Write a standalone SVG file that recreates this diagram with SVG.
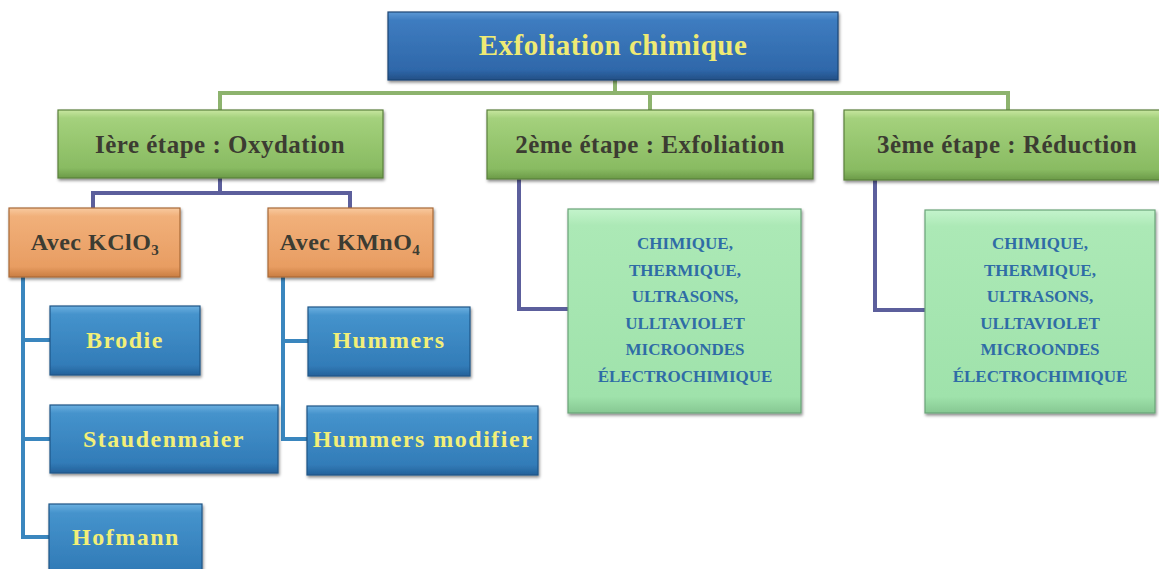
<svg xmlns="http://www.w3.org/2000/svg" width="1159" height="569" viewBox="0 0 1159 569">
<defs>
<linearGradient id="gBlue" x1="0" y1="0" x2="0" y2="1">
<stop offset="0" stop-color="#6cb0e0"/><stop offset="0.12" stop-color="#4593cc"/><stop offset="0.85" stop-color="#327cb8"/><stop offset="1" stop-color="#24619a"/>
</linearGradient>
<linearGradient id="gTop" x1="0" y1="0" x2="0" y2="1">
<stop offset="0" stop-color="#5c98d4"/><stop offset="0.12" stop-color="#3e7cc0"/><stop offset="0.85" stop-color="#2f68aa"/><stop offset="1" stop-color="#234f86"/>
</linearGradient>
<linearGradient id="gGreen" x1="0" y1="0" x2="0" y2="1">
<stop offset="0" stop-color="#c8e6a0"/><stop offset="0.12" stop-color="#a4d17c"/><stop offset="0.85" stop-color="#89bb62"/><stop offset="1" stop-color="#6b9a48"/>
</linearGradient>
<linearGradient id="gOrange" x1="0" y1="0" x2="0" y2="1">
<stop offset="0" stop-color="#f8caa0"/><stop offset="0.12" stop-color="#f1b07a"/><stop offset="0.85" stop-color="#e89d62"/><stop offset="1" stop-color="#c97d42"/>
</linearGradient>
<linearGradient id="gMint" x1="0" y1="0" x2="0" y2="1">
<stop offset="0" stop-color="#c4f4cc"/><stop offset="0.08" stop-color="#ace9b6"/><stop offset="0.92" stop-color="#9fe2ab"/><stop offset="1" stop-color="#86c892"/>
</linearGradient>
<filter id="sh" x="-5%" y="-10%" width="112%" height="130%">
<feDropShadow dx="1" dy="2" stdDeviation="1.5" flood-color="#000" flood-opacity="0.45"/>
</filter>
</defs>
<style>
.box{filter:url(#sh);stroke-width:1.2}
.blue{fill:url(#gBlue);stroke:#1f5687}
.top{fill:url(#gTop);stroke:#1c4675}
.green{fill:url(#gGreen);stroke:#5a803c}
.orange{fill:url(#gOrange);stroke:#a86a38}
.mint{fill:url(#gMint);stroke:#6aa478}
text{font-family:"Liberation Serif","Times New Roman",serif;font-weight:bold;text-anchor:middle}
.ty{fill:#f2ef78;font-size:24px;letter-spacing:1.5px}
.tt{fill:#eeea74;font-size:29px;letter-spacing:0.5px}
.td{fill:#3c3c32;font-size:25px;letter-spacing:0.5px}
.tm{fill:#2f6ca6;font-size:17px}
.c{fill:none;stroke-width:4;stroke-linejoin:miter}
.cg{stroke:#8db36e}
.cp{stroke:#5c5f9c}
.cb{stroke:#3a86be}
</style>
<g id="connectors">
<path class="c cg" d="M615,80 V93 M220,110 V93 H1008 V110 M650,93 V110"/>
<path class="c cp" d="M220,178 V193 M93,208 V193 H350 V208"/>
<path class="c cb" d="M23,277 V537 H49 M23,340 H50 M23,439 H50"/>
<path class="c cb" d="M283,277 V439 H307 M283,341 H308"/>
<path class="c cp" d="M519,179 V309 H568"/>
<path class="c cp" d="M875,180 V310 H925"/>
</g>
<g id="n-root">
<rect class="box top" x="388" y="12" width="450" height="68"/>
<text class="tt" x="613" y="55">Exfoliation chimique</text>
</g>
<g id="n-step1">
<rect class="box green" x="58" y="110" width="325" height="68"/>
<text class="td" x="220" y="153">Ière étape : Oxydation</text>
</g>
<g id="n-step2">
<rect class="box green" x="487" y="110" width="326" height="69"/>
<text class="td" x="650" y="153">2ème étape : Exfoliation</text>
</g>
<g id="n-step3">
<rect class="box green" x="844" y="110" width="330" height="70"/>
<text class="td" x="1007" y="153">3ème étape : Réduction</text>
</g>
<g id="n-kclo3">
<rect class="box orange" x="9" y="208" width="171" height="69"/>
<text class="td" x="95" y="250" style="font-size:24px">Avec KClO<tspan font-size="15" dy="5">3</tspan></text>
</g>
<g id="n-kmno4">
<rect class="box orange" x="268" y="208" width="165" height="69"/>
<text class="td" x="350" y="250" style="font-size:24px">Avec KMnO<tspan font-size="15" dy="5">4</tspan></text>
</g>
<g id="n-brodie">
<rect class="box blue" x="50" y="306" width="150" height="69"/>
<text class="ty" x="125" y="348">Brodie</text>
</g>
<g id="n-staudenmaier">
<rect class="box blue" x="50" y="405" width="228" height="68"/>
<text class="ty" x="164" y="447">Staudenmaier</text>
</g>
<g id="n-hofmann">
<rect class="box blue" x="49" y="504" width="153" height="75"/>
<text class="ty" x="126" y="545">Hofmann</text>
</g>
<g id="n-hummers">
<rect class="box blue" x="308" y="307" width="162" height="69"/>
<text class="ty" x="389" y="348">Hummers</text>
</g>
<g id="n-hummers-mod">
<rect class="box blue" x="307" y="406" width="231" height="69"/>
<text class="ty" x="423" y="447">Hummers modifier</text>
</g>
<g id="n-exfol-methods">
<rect class="box mint" x="568" y="209" width="233" height="204"/>
<text class="tm" x="685" y="249">CHIMIQUE,</text>
<text class="tm" x="685" y="275.6">THERMIQUE,</text>
<text class="tm" x="685" y="302.2">ULTRASONS,</text>
<text class="tm" x="685" y="328.8">ULLTAVIOLET</text>
<text class="tm" x="685" y="355.4">MICROONDES</text>
<text class="tm" x="685" y="382">ÉLECTROCHIMIQUE</text>
</g>
<g id="n-reduc-methods">
<rect class="box mint" x="925" y="210" width="230" height="203"/>
<text class="tm" x="1040" y="249">CHIMIQUE,</text>
<text class="tm" x="1040" y="275.6">THERMIQUE,</text>
<text class="tm" x="1040" y="302.2">ULTRASONS,</text>
<text class="tm" x="1040" y="328.8">ULLTAVIOLET</text>
<text class="tm" x="1040" y="355.4">MICROONDES</text>
<text class="tm" x="1040" y="382">ÉLECTROCHIMIQUE</text>
</g>
</svg>
